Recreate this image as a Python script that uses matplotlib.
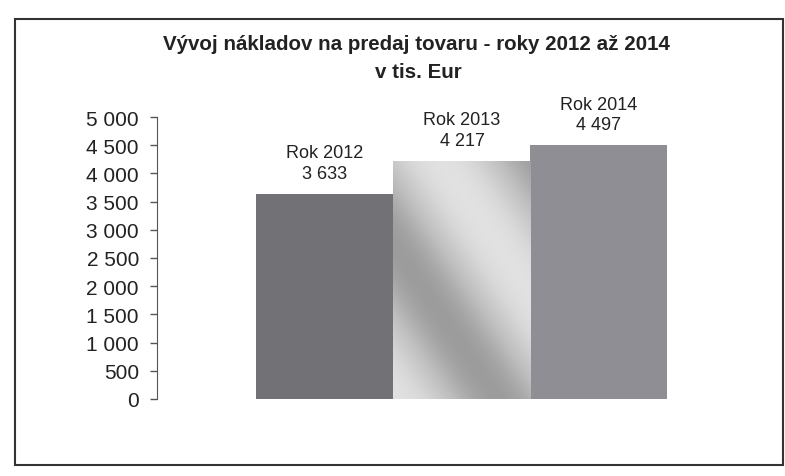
import matplotlib.pyplot as plt
import numpy as np
from matplotlib.patches import Rectangle

# Data (v tis. Eur)
years = ["Rok 2012", "Rok 2013", "Rok 2014"]
costs = [3633, 4217, 4497]
bar_colors = ["#727276", "#c6c6ca", "#8e8e94"]
y_ticks = [0, 500, 1000, 1500, 2000, 2500, 3000, 3500, 4000, 4500, 5000]

plt.rcParams["font.family"] = ["Liberation Sans", "DejaVu Sans"]

fig = plt.figure(figsize=(7.85, 4.77), dpi=100)

# Outer chart frame
fig.patches.append(Rectangle((15 / 785, 1 - 466 / 477), 768 / 785, 446 / 477,
                             transform=fig.transFigure, fill=False,
                             edgecolor="#333333", linewidth=1.5))

ax = fig.add_axes([157 / 785, 1 - 400 / 477, 545 / 785, 282 / 477])

x = np.arange(len(years))
bars = ax.bar(x, costs, width=1.0, color=bar_colors, edgecolor="none")

# soft light diagonal streak on the middle bar (texture fill in the original)
mid = bars[1]
gx, gy = np.meshgrid(np.linspace(0, 1, 200), np.linspace(0, 1, 200))
shade = 0.5 + 0.5 * np.cos((gx * 1.2 + gy * 1.4) * np.pi * 1.1)
img = ax.imshow(shade, cmap="Greys_r", vmin=-1.9, vmax=1.75, aspect="auto",
                extent=[mid.get_x(), mid.get_x() + mid.get_width(), 0, costs[1]],
                origin="lower", zorder=2)
img.set_clip_path(mid)

for xi, name, val in zip(x, years, costs):
    label = f"{name}\n{val:,}".replace(",", " ")
    ax.annotate(label, (xi, val), xytext=(0, 9), textcoords="offset points",
                ha="center", va="bottom", fontsize=13, color="#222222",
                linespacing=1.25)

ax.set_xlim(-1.226, 2.752)
ax.set_ylim(0, 5000)
ax.set_yticks(y_ticks)
ax.set_yticklabels([f"{t:,}".replace(",", " ") for t in y_ticks])
ax.tick_params(axis="y", labelsize=15, length=5, width=1, color="#555555",
               labelcolor="#222222", pad=8)
ax.set_xticks([])
for side in ["top", "right", "bottom"]:
    ax.spines[side].set_visible(False)
ax.spines["left"].set_color("#555555")

fig.text(416 / 785, 1 - 45 / 477, "Vývoj nákladov na predaj tovaru - roky 2012 až 2014",
         ha="center", va="center", fontsize=14.8, fontweight="bold", color="#222222")
fig.text(418 / 785, 1 - 72 / 477, "v tis. Eur", ha="center", va="center",
         fontsize=14.8, fontweight="bold", color="#222222")

fig.savefig("out.png", dpi=100)
